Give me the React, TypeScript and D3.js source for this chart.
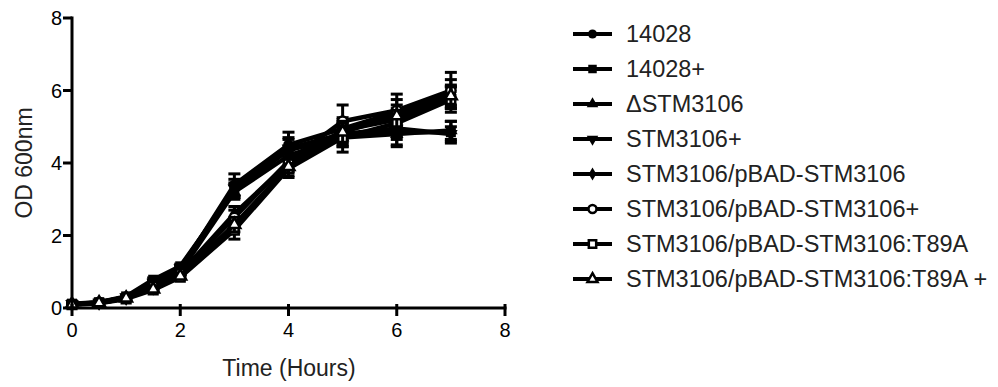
import React from 'react';
import * as d3 from 'd3';

// time points (hours)
const hours = [0, 0.5, 1, 1.5, 2, 3, 4, 5, 6, 7];

const seriesNames = [
  '14028',
  '14028+',
  '\u0394STM3106',
  'STM3106+',
  'STM3106/pBAD-STM3106',
  'STM3106/pBAD-STM3106+',
  'STM3106/pBAD-STM3106:T89A',
  'STM3106/pBAD-STM3106:T89A +',
];

// OD600 means
const od14028 = [0.1, 0.15, 0.3, 0.65, 1.05, 3.4, 4.5, 4.95, 5.4, 5.95];
const od14028Plus = [0.12, 0.16, 0.32, 0.78, 1.15, 3.25, 4.35, 4.75, 4.85, 4.85];
const odDelta = [0.1, 0.14, 0.28, 0.6, 1.0, 3.2, 4.2, 4.7, 4.8, 4.9];
const odDeltaPlus = [0.11, 0.15, 0.3, 0.7, 1.1, 3.3, 4.4, 4.8, 4.95, 4.8];
const odPbad = [0.1, 0.14, 0.27, 0.55, 0.95, 2.6, 4.0, 4.9, 5.2, 5.8];
const odPbadPlus = [0.1, 0.15, 0.3, 0.6, 0.95, 2.5, 4.05, 5.15, 5.45, 6.0];
const odT89A = [0.09, 0.13, 0.25, 0.5, 0.85, 2.15, 3.85, 4.7, 5.1, 5.75];
const odT89APlus = [0.1, 0.14, 0.27, 0.52, 0.88, 2.3, 3.9, 4.85, 5.3, 5.85];

// standard deviations
const sd14028 = [0.02, 0.02, 0.03, 0.05, 0.06, 0.3, 0.35, 0.3, 0.35, 0.35];
const sd14028Plus = [0.02, 0.02, 0.03, 0.05, 0.06, 0.2, 0.3, 0.3, 0.4, 0.3];
const sdDelta = [0.02, 0.02, 0.03, 0.05, 0.05, 0.2, 0.25, 0.25, 0.3, 0.25];
const sdDeltaPlus = [0.02, 0.02, 0.03, 0.05, 0.06, 0.25, 0.3, 0.3, 0.3, 0.2];
const sdPbad = [0.02, 0.02, 0.03, 0.04, 0.05, 0.2, 0.25, 0.3, 0.3, 0.3];
const sdPbadPlus = [0.02, 0.02, 0.03, 0.04, 0.05, 0.2, 0.3, 0.45, 0.45, 0.5];
const sdT89A = [0.02, 0.02, 0.03, 0.04, 0.05, 0.25, 0.25, 0.4, 0.35, 0.35];
const sdT89APlus = [0.02, 0.02, 0.03, 0.04, 0.05, 0.2, 0.25, 0.3, 0.3, 0.3];

const xTicks = [0, 2, 4, 6, 8];
const yTicks = [0, 2, 4, 6, 8];

const means = [od14028, od14028Plus, odDelta, odDeltaPlus, odPbad, odPbadPlus, odT89A, odT89APlus];
const sds = [sd14028, sd14028Plus, sdDelta, sdDeltaPlus, sdPbad, sdPbadPlus, sdT89A, sdT89APlus];

const FONT = '"Liberation Sans", Arial, sans-serif';

type MarkerSpec = { type: d3.SymbolType; open: boolean; rotate: number; area: number };
const markers: MarkerSpec[] = [
  { type: d3.symbolCircle, open: false, rotate: 0, area: 90 },
  { type: d3.symbolSquare, open: false, rotate: 0, area: 100 },
  { type: d3.symbolTriangle, open: false, rotate: 0, area: 80 },
  { type: d3.symbolTriangle, open: false, rotate: 180, area: 80 },
  { type: d3.symbolDiamond, open: false, rotate: 0, area: 70 },
  { type: d3.symbolCircle, open: true, rotate: 0, area: 70 },
  { type: d3.symbolSquare, open: true, rotate: 0, area: 75 },
  { type: d3.symbolTriangle, open: true, rotate: 0, area: 60 },
];

const Marker: React.FC<{ m: MarkerSpec; x: number; y: number; scale?: number }> = ({ m, x, y, scale = 1 }) => {
  const path = d3.symbol().type(m.type).size(m.area * scale * scale)() || '';
  return (
    <path
      d={path}
      transform={`translate(${x},${y}) rotate(${m.rotate})`}
      fill={m.open ? '#fff' : '#000'}
      stroke="#000"
      strokeWidth={m.open ? 2.5 : 0}
    />
  );
};

const App: React.FC = () => {
  const width = 998;
  const height = 387;

  const x = d3.scaleLinear().domain([0, 8]).range([72, 505]);
  const y = d3.scaleLinear().domain([0, 8]).range([308, 18]);

  const line = d3.line<number>()
    .x((_, i) => x(hours[i]))
    .y(d => y(d));

  const capW = 6;
  const legendY = d3.scaleLinear().domain([0, 7]).range([34, 279]);

  return (
    <svg width={width} height={height} style={{ position: 'absolute', left: 0, top: 0, background: '#fff' }}>
      {/* series */}
      {means.map((vals, s) => (
        <g key={s}>
          {vals.map((v, i) => {
            const e = sds[s][i];
            const cx = x(hours[i]);
            return (
              <g key={i} stroke="#000" strokeWidth={3}>
                <line x1={cx} x2={cx} y1={y(v + e)} y2={y(v - e)} />
                <line x1={cx - capW} x2={cx + capW} y1={y(v + e)} y2={y(v + e)} />
                <line x1={cx - capW} x2={cx + capW} y1={y(v - e)} y2={y(v - e)} />
              </g>
            );
          })}
          <path d={line(vals) || ''} fill="none" stroke="#000" strokeWidth={4.5} strokeLinejoin="round" />
          {vals.map((v, i) => (
            <Marker key={i} m={markers[s]} x={x(hours[i])} y={y(v)} />
          ))}
        </g>
      ))}

      {/* y axis */}
      <line x1={x(0)} x2={x(0)} y1={y(8) - 1.5} y2={y(0) + 1.5} stroke="#000" strokeWidth={3} />
      {yTicks.map(t => (
        <g key={t}>
          <line x1={x(0) - 9} x2={x(0)} y1={y(t)} y2={y(t)} stroke="#000" strokeWidth={3} />
          <text x={x(0) - 10} y={y(t)} dy="0.36em" textAnchor="end" fontFamily={FONT} fontSize={20}>
            {t}
          </text>
        </g>
      ))}

      {/* x axis */}
      <line x1={x(0) - 1.5} x2={x(8) + 1.5} y1={y(0)} y2={y(0)} stroke="#000" strokeWidth={3} />
      {xTicks.map(t => (
        <g key={t}>
          <line x1={x(t)} x2={x(t)} y1={y(0) - 4} y2={y(0) + 8} stroke="#000" strokeWidth={3} />
          <text x={x(t)} y={337} textAnchor="middle" fontFamily={FONT} fontSize={20}>
            {t}
          </text>
        </g>
      ))}

      <text x={289} y={376} textAnchor="middle" fontFamily={FONT} fontSize={23} fill="#222">
        Time (Hours)
      </text>
      <text
        transform={`translate(32,${163}) rotate(-90)`}
        textAnchor="middle"
        fontFamily={FONT}
        fontSize={23}
        fill="#222"
      >
        OD 600nm
      </text>

      {/* legend */}
      {seriesNames.map((name, s) => {
        const ly = legendY(s);
        return (
          <g key={name}>
            <line x1={573} x2={612} y1={ly} y2={ly} stroke="#000" strokeWidth={4} />
            <Marker m={markers[s]} x={592.5} y={ly} scale={0.85} />
            <text x={626} y={ly} dy="0.36em" fontFamily={FONT} fontSize={23.5} fill="#222">
              {name}
            </text>
          </g>
        );
      })}
    </svg>
  );
};

export default App;
